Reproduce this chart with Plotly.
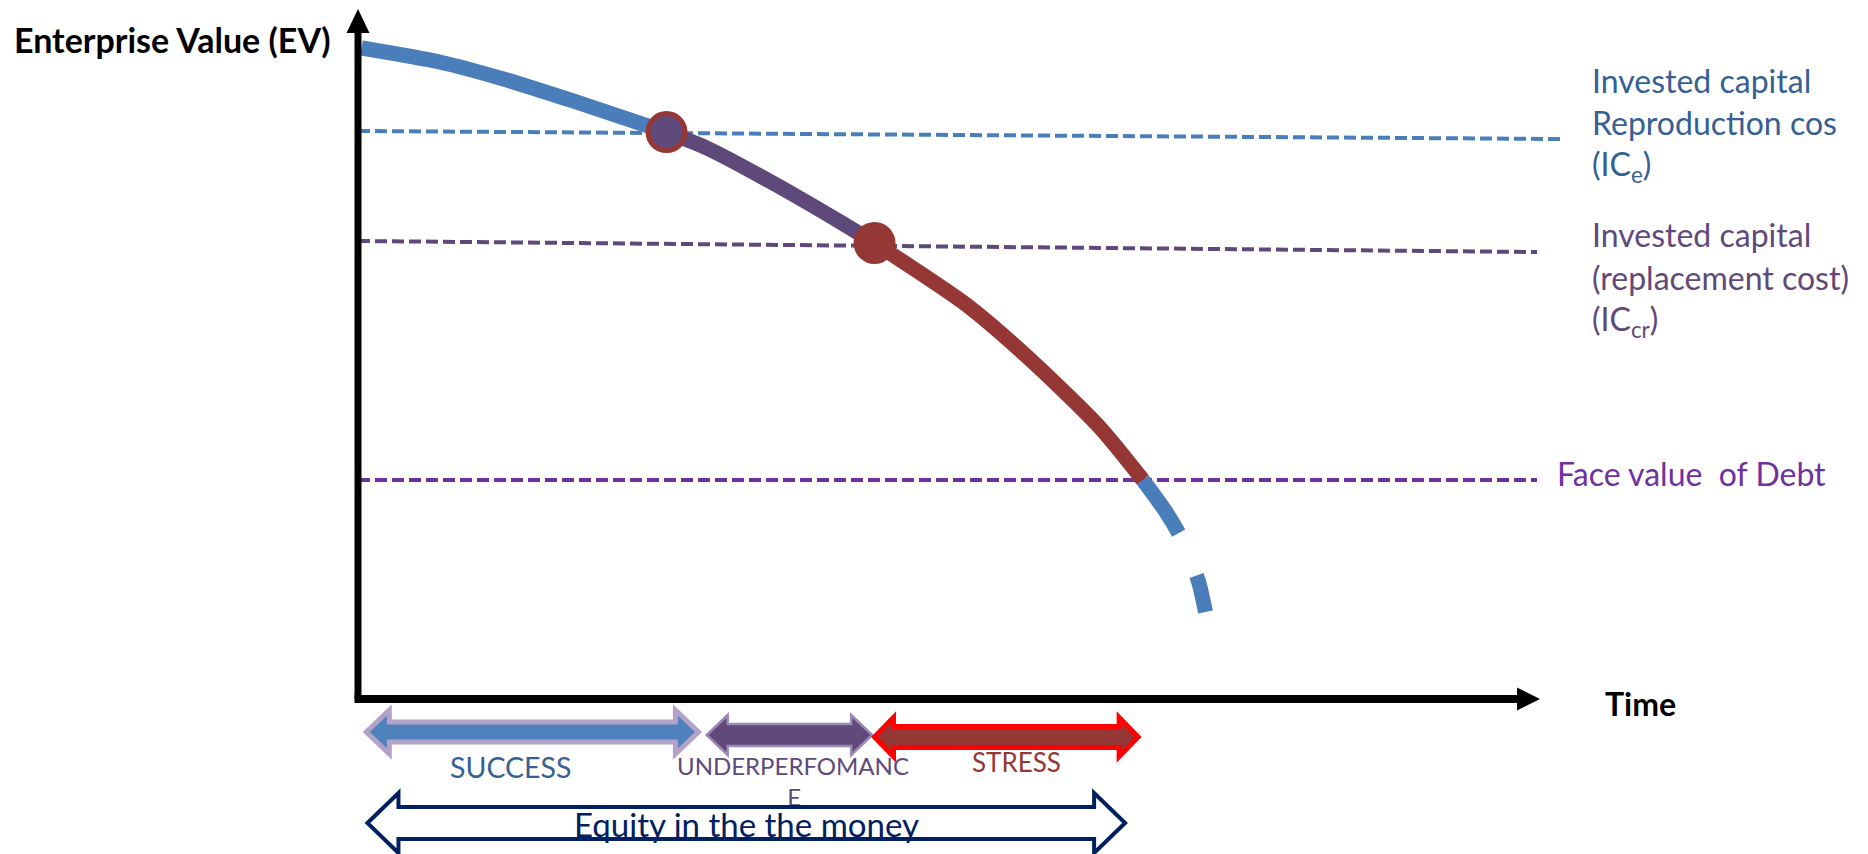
import plotly.graph_objects as go

# Enterprise value path over time (conceptual units: time 0-10, EV 0-100)
TIME = [0.03, 0.69, 1.26, 1.82, 2.61, 2.95, 3.51, 4.08, 4.37,
        4.59, 5.15, 5.71, 6.28, 6.64, 6.83, 6.96, 7.11, 7.17]
EV = [94.35, 92.32, 89.71, 86.67, 82.17, 79.86, 74.78, 69.13, 66.09,
      63.62, 57.10, 48.84, 39.28, 31.74, 27.25, 23.48, 17.10, 12.61]

# indices on the path where the regime changes
SPLITS = [0, 4, 8, 13, len(TIME) - 1]
SEGMENT_COLORS = ["#4A7EBB", "#5F497A", "#953735", "#4A7EBB"]

# reference value levels (start at t=0, end at REF_T_END)
REF_EV_START = [82.32, 66.38, 31.74]
REF_EV_END = [81.16, 64.78, 31.74]
REF_T_END = [10.17, 9.975, 9.975]
REF_COLORS = ["#4A7EBB", "#5F497A", "#7030A0"]

# regime phases along the time axis
PHASES = ["SUCCESS", "UNDERPERFOMANCE", "STRESS"]
PHASE_T0 = [0.07, 2.95, 4.37]
PHASE_T1 = [2.88, 4.35, 6.60]
EQUITY_LABEL = "Equity in the the money"
EQUITY_T0, EQUITY_T1 = 0.08, 6.49

T_MAX, EV_MAX = 10.0, 100.0

# scale of the drawing: pixels per unit on each axis
PX_T, PX_EV = 118.2, 6.9
X_RANGE = [-358 / PX_T, (1868 - 358) / PX_T]
Y_RANGE = [-(854 - 699) / PX_EV, 699 / PX_EV]

FONT = "Lato"

fig = go.Figure()

# dashed reference levels
for y0, y1, t1, c in zip(REF_EV_START, REF_EV_END, REF_T_END, REF_COLORS):
    fig.add_trace(go.Scatter(x=[0, t1], y=[y0, y1], mode="lines",
                             line=dict(color=c, width=4, dash="12px,5px"),
                             hoverinfo="skip"))

# the EV path, one trace per regime
for i, c in enumerate(SEGMENT_COLORS):
    a, b = SPLITS[i], SPLITS[i + 1]
    dash = "64px,46px" if i == 3 else "solid"
    fig.add_trace(go.Scatter(x=TIME[a:b + 1], y=EV[a:b + 1], mode="lines",
                             line=dict(color=c, width=15, dash=dash,
                                       shape="spline", smoothing=0.7),
                             hoverinfo="skip"))

# regime change points
fig.add_trace(go.Scatter(x=[TIME[SPLITS[1]]], y=[EV[SPLITS[1]]], mode="markers",
                         marker=dict(size=37, color="#604A7B",
                                     line=dict(color="#953735", width=5))))
fig.add_trace(go.Scatter(x=[TIME[SPLITS[2]]], y=[EV[SPLITS[2]]], mode="markers",
                         marker=dict(size=42, color="#953735",
                                     line=dict(width=0))))

# wrapped tail of the long phase label (sits under the equity arrow)
fig.add_trace(go.Scatter(x=[3.69], y=[-14.6], mode="text",
                         text=[PHASES[1][14:]],
                         textfont=dict(family=FONT, size=24, color="#5F497A"),
                         hoverinfo="skip"))


def block_arrow(t0, t1, yc, head_px, head_half_px, shaft_half_px):
    hl = head_px / PX_T
    hh = head_half_px / PX_EV
    sh = shaft_half_px / PX_EV
    pts = [(t0, yc), (t0 + hl, yc + hh), (t0 + hl, yc + sh), (t1 - hl, yc + sh),
           (t1 - hl, yc + hh), (t1, yc), (t1 - hl, yc - hh), (t1 - hl, yc - sh),
           (t0 + hl, yc - sh), (t0 + hl, yc - hh)]
    return "M " + " L ".join(f"{x:.4f},{y:.4f}" for x, y in pts) + " Z"


shapes = []
# axes with arrow heads
shapes.append(dict(type="line", x0=0, x1=0, y0=0, y1=EV_MAX - 24 / PX_EV,
                   line=dict(color="black", width=7), layer="above"))
shapes.append(dict(type="path",
                   path=f"M {-11.5 / PX_T},{EV_MAX - 24 / PX_EV} L {11.5 / PX_T},{EV_MAX - 24 / PX_EV} L 0,{EV_MAX} Z",
                   fillcolor="black", line=dict(width=0), layer="above"))
shapes.append(dict(type="line", x0=-3.5 / PX_T, x1=T_MAX - 23 / PX_T, y0=0, y1=0,
                   line=dict(color="black", width=8), layer="above"))
shapes.append(dict(type="path",
                   path=f"M {T_MAX - 23 / PX_T},{11.5 / PX_EV} L {T_MAX - 23 / PX_T},{-11.5 / PX_EV} L {T_MAX},0 Z",
                   fillcolor="black", line=dict(width=0), layer="above"))

phase_style = [
    dict(y=-4.78, head=23, hh=22, sh=10, fill="#4F81BD", edge="#B3A2C7", w=5),
    dict(y=-5.22, head=21, hh=20, sh=11, fill="#604A7B", edge="#9A88B5", w=2.5),
    dict(y=-5.51, head=19, hh=19.5, sh=10.5, fill="#953735", edge="#FF0000", w=5),
]
for t0, t1, st in zip(PHASE_T0, PHASE_T1, phase_style):
    shapes.append(dict(type="path",
                       path=block_arrow(t0, t1, st["y"], st["head"], st["hh"], st["sh"]),
                       fillcolor=st["fill"], line=dict(color=st["edge"], width=st["w"]),
                       layer="above"))
shapes.append(dict(type="path",
                   path=block_arrow(EQUITY_T0, EQUITY_T1, -17.97, 31, 30, 16),
                   fillcolor="white", line=dict(color="#002060", width=4),
                   layer="above"))

ann = []


def label(text, x, y, size, color, bold=False, anchor="left"):
    ann.append(dict(text=f"<b>{text}</b>" if bold else text, x=x, y=y,
                    xref="x", yref="y", xanchor=anchor, yanchor="middle",
                    showarrow=False,
                    font=dict(family=FONT, size=size, color=color)))


label("Enterprise Value (EV)", -2.927, 95.65, 34, "black", bold=True)
label("Time", 10.53, -0.58, 32, "black", bold=True)

label("Invested capital", 10.42, 89.71, 32, "#366092")
label("Reproduction cos", 10.42, 83.62, 32, "#366092")
label("(IC<sub>e</sub>)", 10.42, 77.25, 32, "#366092")
label("Invested capital", 10.42, 67.39, 32, "#5F497A")
label("(replacement cost)", 10.42, 61.16, 32, "#5F497A")
label("(IC<sub>cr</sub>)", 10.42, 54.78, 32, "#5F497A")
label("Face value  of Debt", 10.127, 32.61, 32, "#7030A0")

label(PHASES[0], 1.294, -9.86, 28.5, "#376092", anchor="center")
label(PHASES[1][:14], 3.68, -9.57, 24, "#5F497A", anchor="center")
label(PHASES[2], 5.567, -9.13, 26, "#953735", anchor="center")
label(EQUITY_LABEL, 3.283, -18.12, 33, "#002060", anchor="center")

fig.update_layout(
    width=1868, height=854,
    margin=dict(l=0, r=0, t=0, b=0),
    paper_bgcolor="white", plot_bgcolor="white",
    showlegend=False,
    xaxis=dict(range=X_RANGE, visible=False, fixedrange=True),
    yaxis=dict(range=Y_RANGE, visible=False, fixedrange=True),
    shapes=shapes, annotations=ann,
)

fig.write_html("out.html")
